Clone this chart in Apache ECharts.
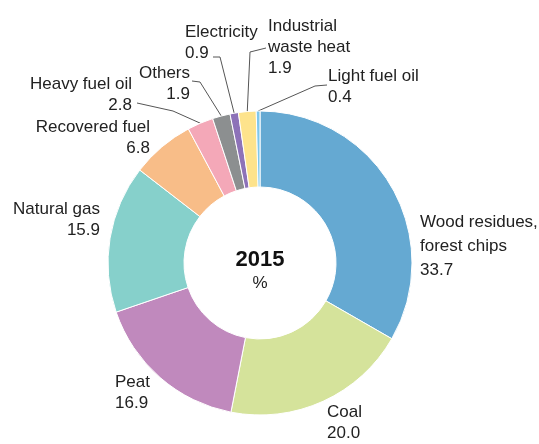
<!DOCTYPE html>
<html>
<head>
<meta charset="utf-8">
<script src="https://cdn.jsdelivr.net/npm/echarts@6/dist/echarts.min.js"></script>
<style>
  html, body { margin: 0; padding: 0; background: #fff; }
  #main { width: 539px; height: 444px; }
</style>
</head>
<body>
<div id="main"></div>
<script>
// 2015 fuel shares, %, clockwise from the top
var categories = ['Wood residues,\nforest chips', 'Coal', 'Peat', 'Natural gas', 'Recovered fuel',
  'Heavy fuel oil', 'Others', 'Electricity', 'Industrial\nwaste heat', 'Light fuel oil'];
var values = [33.7, 20.0, 16.9, 15.9, 6.8, 2.8, 1.9, 0.9, 1.9, 0.4];
var colors = ['#65a9d2', '#d5e39b', '#c089bd', '#86d0cb', '#f8bd88',
  '#f4a8b8', '#8c8f90', '#8d72b8', '#fde38c', '#7ec7ec'];

var FONT = '"Liberation Sans Narrow", "Arial Narrow", "Liberation Sans", Arial, sans-serif';

// where each label sits (x, middle y, align) and the bend of its leader line
var labelPos = [
  { x: 420, y: 246, align: 'left', lh: 24 },
  { x: 327, y: 423, align: 'left' },
  { x: 115, y: 393, align: 'left' },
  { x: 100, y: 220, align: 'right' },
  { x: 150, y: 138, align: 'right' },
  { x: 132, y: 95, align: 'right', line: [[173, 111], [137, 103]] },
  { x: 190, y: 84, align: 'right', line: [[200, 82], [192, 81]] },
  { x: 185, y: 43, align: 'left', line: [[220, 57], [213, 57]] },
  { x: 268, y: 47, align: 'left', line: [[250, 52], [266, 48]] },
  { x: 328, y: 87, align: 'left', line: [[315, 86], [327, 85]] }
];

var data = categories.map(function (name, i) {
  var p = labelPos[i];
  return {
    name: name,
    value: values[i],
    itemStyle: { color: colors[i] },
    label: { align: p.align, lineHeight: p.lh || 21 },
    labelLine: { show: !!p.line }
  };
});

var chart = echarts.init(document.getElementById('main'));
chart.setOption({
  animation: false,
  graphic: [
    { type: 'text', x: 260, y: 260, style: { text: '2015', font: 'bold 22px "Liberation Sans", Arial, sans-serif', fill: '#111', align: 'center', verticalAlign: 'middle' } },
    { type: 'text', x: 260, y: 283, style: { text: '%', font: '17px "Liberation Sans", Arial, sans-serif', fill: '#222', align: 'center', verticalAlign: 'middle' } }
  ],
  series: [{
    type: 'pie',
    center: [260, 263],
    radius: [76, 152],
    startAngle: 90,
    clockwise: true,
    avoidLabelOverlap: false,
    itemStyle: { borderColor: '#fff', borderWidth: 1 },
    label: {
      show: true,
      position: 'outside',
      fontFamily: FONT,
      fontSize: 17,
      color: '#222',
      formatter: function (p) { return p.name + '\n' + p.value.toFixed(1); }
    },
    labelLine: { lineStyle: { color: '#555', width: 1 } },
    labelLayout: function (params) {
      var p = labelPos[params.dataIndex];
      var out = { x: p.x, y: p.y, align: p.align, verticalAlign: 'middle' };
      if (p.line && params.labelLinePoints) {
        out.labelLinePoints = [params.labelLinePoints[0]].concat(p.line);
      }
      return out;
    },
    data: data
  }]
});
</script>
</body>
</html>
